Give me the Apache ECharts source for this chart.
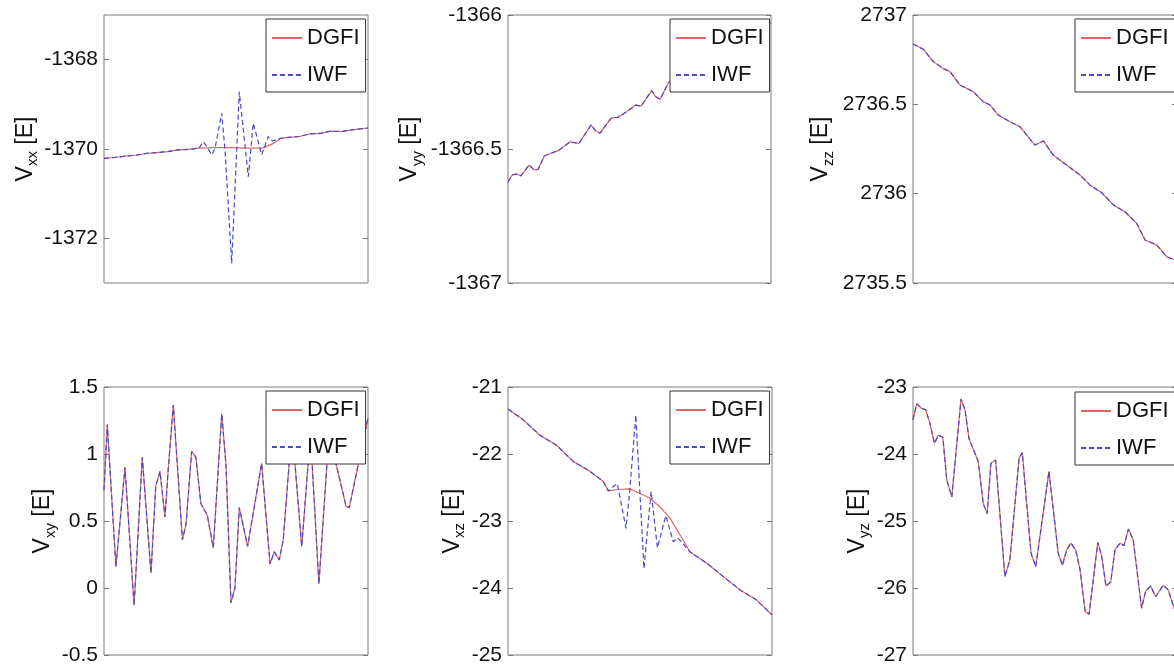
<!DOCTYPE html>
<html>
<head>
<meta charset="utf-8">
<title>DGFI / IWF gravity gradients</title>
<script src="https://cdn.jsdelivr.net/npm/echarts@6/dist/echarts.min.js"></script>
<style>
    html, body { margin: 0; padding: 0; background: #fff; }
    #chart { width: 1174px; height: 672px; }
</style>
</head>
<body>
<div id="chart"></div>
<script>
// along-track position (0-100) and gradient values, one block per panel

// Vxx
var vxxX = [0, 4, 8, 12, 16, 20, 24, 28, 32, 36, 42, 48, 54, 60, 64, 67, 70, 74, 78, 82, 86, 90, 94, 97, 100];
var vxxDgfi = [-1370.21, -1370.19, -1370.16, -1370.14, -1370.10, -1370.08, -1370.06, -1370.02, -1370.01, -1369.98,
    -1369.97, -1369.97, -1369.98, -1369.98, -1369.88, -1369.76, -1369.74, -1369.72, -1369.66, -1369.65,
    -1369.60, -1369.61, -1369.57, -1369.55, -1369.53];
var vxxIwfX = [0, 4, 8, 12, 16, 20, 24, 28, 32, 36, 37.61, 39.02, 40.80, 42.05, 44.58, 45.83, 48.37, 51.25, 54.66,
    56.55, 59.73, 62.23, 63.64, 67, 70, 74, 78, 82, 86, 90, 94, 97, 100];
var vxxIwf = [-1370.21, -1370.19, -1370.16, -1370.14, -1370.10, -1370.08, -1370.06, -1370.02, -1370.01, -1369.98,
    -1369.84, -1369.95, -1370.13, -1369.99, -1369.20, -1370.02, -1372.56, -1368.72, -1370.62, -1369.42,
    -1370.13, -1369.72, -1369.82, -1369.76, -1369.74, -1369.72, -1369.66, -1369.65, -1369.60, -1369.61,
    -1369.57, -1369.55, -1369.53];

// Vyy
var vyyX = [0, 1.6, 3.3, 4.9, 8.0, 10.0, 11.5, 13.8, 16.3, 19.1, 23.6, 25.2, 27.0, 31.6, 33.3, 35.0, 39.2, 41.7,
    45.1, 48.6, 50.6, 54.6, 56.2, 57.8, 61.0, 65.4, 69.2, 73.0, 76.8, 80.6, 86.3, 92.0, 95.8, 100];
var vyyDgfi = [-1366.622, -1366.597, -1366.593, -1366.600, -1366.560, -1366.578, -1366.576, -1366.526, -1366.516,
    -1366.506, -1366.473, -1366.476, -1366.479, -1366.410, -1366.432, -1366.441, -1366.385, -1366.382, -1366.361,
    -1366.336, -1366.340, -1366.282, -1366.305, -1366.315, -1366.253, -1366.230, -1366.200, -1366.190, -1366.150,
    -1366.130, -1366.100, -1366.060, -1366.050, -1366.030];
var vyyIwf = vyyDgfi.slice();

// Vzz
var vzzX = [0, 3.9, 7.7, 11.5, 14.0, 17.8, 22.8, 26.6, 29.2, 32.3, 36.7, 40.5, 46.2, 49.4, 53.1, 58.2, 63.3, 67.0,
    71.5, 75.9, 80.3, 84.7, 87.9, 92.3, 96.1, 98.6, 100];
var vzzDgfi = [2736.838, 2736.808, 2736.739, 2736.700, 2736.683, 2736.608, 2736.571, 2736.515, 2736.496, 2736.440,
    2736.403, 2736.375, 2736.272, 2736.295, 2736.216, 2736.160, 2736.104, 2736.049, 2736.005, 2735.937,
    2735.899, 2735.834, 2735.741, 2735.713, 2735.647, 2735.633, 2735.625];
var vzzIwf = vzzDgfi.slice();

// Vxy
var vxyX = [0, 1.25, 4.5, 6.1, 7.95, 11.4, 14.5, 17.8, 19.6, 21.2, 23.1, 24.2, 26.25, 29.7, 31.1, 33.2, 34.8, 36.7,
    39.1, 41.4, 44.6, 46.2, 48.1, 49.6, 51.25, 54.4, 59.7, 62.9, 64.5, 66.4, 67.9, 71.2, 74.9, 78.2, 81.4, 85.2,
    91.7, 92.9, 100];
var vxyDgfi = [0.73, 1.22, 0.16, 0.50, 0.90, -0.13, 0.975, 0.11, 0.76, 0.87, 0.53, 0.85, 1.366, 0.36, 0.48, 1.02,
    0.975, 0.63, 0.545, 0.30, 1.30, 0.92, -0.11, 0.0, 0.60, 0.31, 0.93, 0.18, 0.27, 0.21, 0.36, 1.20, 0.31, 1.15,
    0.03, 1.15, 0.61, 0.60, 1.27];
var vxyIwf = vxyDgfi.slice();

// Vxz
var vxzX = [0, 5.8, 12.1, 18.4, 24.7, 31.1, 36.1, 38.0, 41.2, 46.2, 50.0, 53.8, 57.6, 61.4, 65.2, 68.9, 75.3, 81.6,
    87.9, 94.2, 100];
var vxzDgfi = [-21.33, -21.49, -21.72, -21.87, -22.11, -22.26, -22.41, -22.55, -22.53, -22.52, -22.59, -22.66,
    -22.79, -22.96, -23.21, -23.46, -23.63, -23.83, -24.03, -24.18, -24.40];
var vxzIwfX = [0, 5.8, 12.1, 18.4, 24.7, 31.1, 36.1, 38.0, 41.4, 44.7, 46.2, 48.4, 51.5, 54.2, 56.6, 59.8, 62.6,
    64.3, 68.9, 75.3, 81.6, 87.9, 94.2, 100];
var vxzIwf = [-21.33, -21.49, -21.72, -21.87, -22.11, -22.26, -22.41, -22.55, -22.44, -23.11, -22.51, -21.42,
    -23.71, -22.56, -23.40, -22.92, -23.31, -23.25, -23.46, -23.63, -23.83, -24.03, -24.18, -24.40];

// Vyz
var vyzX = [0, 1.4, 3.3, 4.8, 6.4, 8.1, 9.6, 11.3, 12.8, 14.7, 18.2, 19.7, 21.2, 24.7, 26.6, 28.1, 29.5, 31.3, 34.8,
    36.7, 40.2, 41.4, 44.7, 46.5, 51.5, 55.0, 56.6, 58.2, 59.8, 61.6, 63.3, 65.2, 66.7, 70.0, 71.5, 73.1, 74.9,
    76.5, 78.4, 79.9, 81.6, 83.4, 86.6, 88.1, 90.0, 91.9, 94.8, 96.7, 98.9, 100];
var vyzDgfi = [-23.49, -23.25, -23.32, -23.34, -23.54, -23.84, -23.72, -23.75, -24.39, -24.64, -23.18, -23.34,
    -23.77, -24.11, -24.74, -24.89, -24.14, -24.09, -25.83, -25.58, -24.06, -23.98, -25.48, -25.68, -24.26,
    -25.48, -25.66, -25.43, -25.33, -25.43, -25.73, -26.35, -26.39, -25.32, -25.53, -25.97, -25.91, -25.43,
    -25.33, -25.37, -25.12, -25.28, -26.30, -26.05, -25.97, -26.13, -25.96, -26.03, -26.30, -26.36];
var vyzIwf = vyzDgfi.slice();

// tick labels
var vxxTicks = [-1372, -1370, -1368];
var vyyTicks = [-1367, -1366.5, -1366];
var vzzTicks = [2735.5, 2736, 2736.5, 2737];
var vxyTicks = [-0.5, 0, 0.5, 1, 1.5];
var vxzTicks = [-25, -24, -23, -22, -21];
var vyzTicks = [-27, -26, -25, -24, -23];

var seriesNames = ['DGFI', 'IWF'];

function pairs(xs, ys) {
    return xs.map(function (x, i) { return [x, ys[i]]; });
}

var font = '"Liberation Sans", Arial, Helvetica, sans-serif';

var panels = [
    {sub: 'xx', left: 104, top: 15, width: 264, min: -1373, max: -1367, ticks: vxxTicks, gap: 58,
        dgfi: pairs(vxxX, vxxDgfi), iwf: pairs(vxxIwfX, vxxIwf), legend: [266, 19]},
    {sub: 'yy', left: 508, top: 15, width: 263, min: -1367, max: -1366, ticks: vyyTicks, gap: 84,
        dgfi: pairs(vyyX, vyyDgfi), iwf: pairs(vyyX, vyyIwf), legend: [670, 19]},
    {sub: 'zz', left: 913, top: 15, width: 264, min: 2735.5, max: 2737, ticks: vzzTicks, gap: 78,
        dgfi: pairs(vzzX, vzzDgfi), iwf: pairs(vzzX, vzzIwf), legend: [1075, 19]},
    {sub: 'xy', left: 104, top: 387, width: 264, min: -0.5, max: 1.5, ticks: vxyTicks, gap: 44,
        dgfi: pairs(vxyX, vxyDgfi), iwf: pairs(vxyX, vxyIwf), legend: [266, 391]},
    {sub: 'xz', left: 508, top: 387, width: 264, min: -25, max: -21, ticks: vxzTicks, gap: 38,
        dgfi: pairs(vxzX, vxzDgfi), iwf: pairs(vxzIwfX, vxzIwf), legend: [670, 391]},
    {sub: 'yz', left: 913, top: 387, width: 264, min: -27, max: -23, ticks: vyzTicks, gap: 35,
        dgfi: pairs(vyzX, vyzDgfi), iwf: pairs(vyzX, vyzIwf), legend: [1075, 392]}
];

var grids = [], xAxes = [], yAxes = [], series = [], legends = [];

panels.forEach(function (p, i) {
    grids.push({
        left: p.left, top: p.top, width: p.width, height: 268,
        show: true, borderColor: '#7a7a7a', borderWidth: 1, backgroundColor: '#fff',
        containLabel: false, outerBoundsMode: 'none'
    });
    xAxes.push({
        gridIndex: i, type: 'value', min: 0, max: 100, show: false
    });
    // left axis with labels and name
    yAxes.push({
        gridIndex: i, type: 'value', position: 'left', min: p.min, max: p.max,
        name: '{v|V}{s|' + p.sub + '}{v| [E]}',
        nameLocation: 'middle', nameRotate: 90, nameGap: p.gap,
        nameTextStyle: {
            rich: {
                v: {fontSize: 23, fontFamily: font, color: '#111', lineHeight: 28},
                s: {fontSize: 15, fontFamily: font, color: '#111', lineHeight: 15, padding: [15, 0, 0, 0]}
            }
        },
        axisLine: {show: false},
        axisTick: {show: true, inside: true, length: 5, customValues: p.ticks,
            lineStyle: {color: '#7a7a7a'}},
        axisLabel: {show: true, customValues: p.ticks, margin: 6, fontSize: 21,
            fontFamily: font, color: '#111',
            formatter: function (v) { return String(v); }},
        splitLine: {show: false}
    });
    // right side: ticks only
    yAxes.push({
        gridIndex: i, type: 'value', position: 'right', min: p.min, max: p.max,
        axisLine: {show: false},
        axisTick: {show: true, inside: true, length: 5, customValues: p.ticks,
            lineStyle: {color: '#7a7a7a'}},
        axisLabel: {show: false, customValues: p.ticks},
        splitLine: {show: false}
    });
    series.push({
        name: seriesNames[0], type: 'line', xAxisIndex: i, yAxisIndex: 2 * i,
        symbol: 'none', data: p.dgfi, animation: false, z: 2,
        lineStyle: {color: '#e06666', width: 1.2}, itemStyle: {color: '#e06666'}
    });
    series.push({
        name: seriesNames[1], type: 'line', xAxisIndex: i, yAxisIndex: 2 * i,
        symbol: 'none', data: p.iwf, animation: false, z: 3,
        lineStyle: {color: '#4a4ac8', width: 1.2, type: [5, 3]}, itemStyle: {color: '#4a4ac8'}
    });
    legends.push({
        left: p.legend[0], top: p.legend[1], orient: 'vertical', data: seriesNames,
        backgroundColor: '#fff', borderColor: '#333', borderWidth: 1, borderRadius: 0,
        padding: [8, 6, 6, 5], itemWidth: 30, itemHeight: 14, itemGap: 15,
        selectedMode: false, z: 10,
        itemStyle: {opacity: 0},
        textStyle: {fontSize: 22, fontFamily: font, color: '#111'}
    });
});

var chart = echarts.init(document.getElementById('chart'));
chart.setOption({
    backgroundColor: '#fff',
    animation: false,
    grid: grids,
    xAxis: xAxes,
    yAxis: yAxes,
    legend: legends,
    series: series
});
</script>
</body>
</html>
